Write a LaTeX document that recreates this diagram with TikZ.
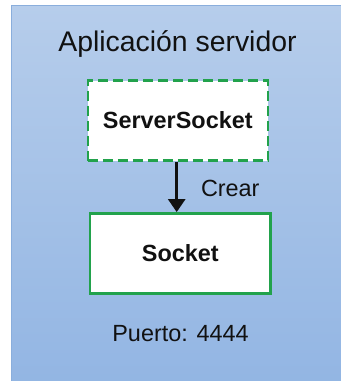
\documentclass[tikz,border=0pt]{standalone}
\usepackage{fontspec}
\setmainfont{Liberation Sans}
\usetikzlibrary{arrows.meta}
\definecolor{panelTop}{HTML}{B6CDEB}
\definecolor{panelBot}{HTML}{92B5E3}
\definecolor{panelEdge}{HTML}{8AAEDC}
\definecolor{boxGreen}{HTML}{22A24C}
\definecolor{ink}{HTML}{111111}
\tikzset{
  sockbox/.style={draw=boxGreen, fill=white, line width=2.4bp, minimum width=180bp, minimum height=80bp, inner sep=0pt, font=\fontsize{23.5}{28}\selectfont\bfseries, text=ink},
  dashbox/.style={sockbox, dash pattern=on 10bp off 5bp},
  lbl/.style={font=\fontsize{23.5}{28}\selectfont, text=ink, inner sep=0pt},
  arrowline/.style={draw=ink, line width=2.6bp, -{Triangle[width=17bp,length=13bp]}}
}
\begin{document}
\begin{tikzpicture}[x=1bp,y=-1bp]
\useasboundingbox (0,0) rectangle (341,381);
\shade[top color=panelTop, bottom color=panelBot, draw=panelEdge, line width=1.2bp] (11.5,5.5) rectangle (350,390);
\node[lbl, font=\fontsize{28.5}{34}\selectfont, anchor=base] (title) at (177.5,51.7) {Aplicación servidor};
\node[dashbox] (ss) at (177.8,120.5) {ServerSocket};
\node[sockbox] (sock) at (180.3,253.3) {Socket};
\coordinate (aTop) at (176.7,121);
\draw[arrowline] (aTop |- ss.south) -- node[lbl, anchor=base west, xshift=23bp, yshift=-10bp] (crear) {Crear} (aTop |- sock.north);
\node[lbl, anchor=base] (puerto) at (180.5,341.7) {Puerto: 4444};
\end{tikzpicture}
\end{document}
